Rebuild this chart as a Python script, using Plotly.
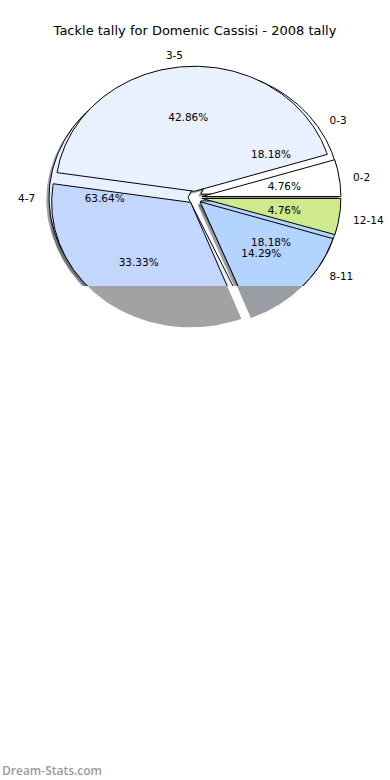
import numpy as np
import plotly.graph_objects as go

# ---------------- data ----------------
chart_title = "Tackle tally for Domenic Cassisi - 2008 tally"
# first (underlying) pie
a_labels = ["0-3", "4-7", "8-11"]
a_values = [2, 7, 2]
# second (top) pie
b_labels = ["0-2", "3-5", "4-7", "8-11", "12-14"]
b_values = [1, 9, 7, 3, 1]
watermark = "Dream-Stats.com"

# ---------------- styles ----------------
a_colors = ["#ffffff", "#e9f0fe", "#b3d4fe"]
b_colors = ["#ffffff", "#e9f0fe", "#c3d7fe", "#b3d4fe", "#cfea8c"]
b_under_grey = {"4-7": "#a1a2a4", "8-11": "#9a9ea4"}
EXPLODE = 0.05
SHADOW = (-0.02, -0.02)
FONT = "DejaVu Sans"

# pixel geometry of the page
W, H = 390, 780
CX, CY = 195.0, 197.5      # pie centre (px)
RX, RY = 139.0, 125.0      # pie radii (px) -> elliptical pie
CLIP_Y = 286.0             # lower clip of the pie axes (px)
TEXT_DY = 2.0 / RY         # small downward nudge of text baselines

xr = [(0 - CX) / RX, (W - CX) / RX]
yr_full = [(CY - H) / RY, CY / RY]
yr_clip = [(CY - CLIP_Y) / RY, CY / RY]


def wedges(values):
    v = np.asarray(values, dtype=float)
    frac = v / v.sum()
    edges = np.concatenate([[0.0], np.cumsum(frac)]) * 360.0
    return [(edges[i], edges[i + 1], frac[i] * 100) for i in range(len(v))]


def wedge_poly(t1, t2, e, dx=0.0, dy=0.0, n=160):
    mid = np.radians((t1 + t2) / 2)
    ox, oy = e * np.cos(mid) + dx, e * np.sin(mid) + dy
    th = np.radians(np.linspace(t1, t2, n))
    xs = np.concatenate([[ox], ox + np.cos(th), [ox]])
    ys = np.concatenate([[oy], oy + np.sin(th), [oy]])
    return xs, ys


def shade(hexcol):
    h = hexcol.lstrip("#")
    r, g, b = (int(h[i:i + 2], 16) for i in (0, 2, 4))
    return f"rgba({int(0.3*r)},{int(0.3*g)},{int(0.3*b)},0.5)"


fig = go.Figure()

pies = [(a_labels, a_values, a_colors), (b_labels, b_values, b_colors)]

# unclipped grey lower part of the top pie
for lab, (t1, t2, p) in zip(b_labels, wedges(b_values)):
    if lab in b_under_grey:
        xs, ys = wedge_poly(t1, t2, EXPLODE)
        fig.add_trace(go.Scatter(x=xs, y=ys, mode="lines", fill="toself",
                                 fillcolor=b_under_grey[lab], line=dict(width=0),
                                 hoverinfo="skip", showlegend=False,
                                 xaxis="x", yaxis="y"))

# shadows (all pies) on clipped axes
for labels, values, colors in pies:
    for col, (t1, t2, p) in zip(colors, wedges(values)):
        xs, ys = wedge_poly(t1, t2, EXPLODE, SHADOW[0], SHADOW[1])
        fig.add_trace(go.Scatter(x=xs, y=ys, mode="lines", fill="toself",
                                 fillcolor=shade(col), line=dict(width=0),
                                 hoverinfo="skip", showlegend=False,
                                 xaxis="x2", yaxis="y2"))

# wedges
for labels, values, colors in pies:
    for col, (t1, t2, p) in zip(colors, wedges(values)):
        xs, ys = wedge_poly(t1, t2, EXPLODE)
        fig.add_trace(go.Scatter(x=xs, y=ys, mode="lines", fill="toself",
                                 fillcolor=col, line=dict(color="black", width=1),
                                 hoverinfo="skip", showlegend=False,
                                 xaxis="x2", yaxis="y2"))

# texts
for labels, values, colors in pies:
    lx, ly, lt, lp = [], [], [], []
    px, py, pt = [], [], []
    for lab, (t1, t2, p) in zip(labels, wedges(values)):
        mid = np.radians((t1 + t2) / 2)
        c, s = np.cos(mid), np.sin(mid)
        lx.append((1.1 + EXPLODE) * c)
        ly.append((1.1 + EXPLODE) * s - TEXT_DY)
        lt.append(lab)
        lp.append("middle right" if c > 0 else "middle left")
        px.append((0.6 + EXPLODE) * c)
        py.append((0.6 + EXPLODE) * s - TEXT_DY)
        pt.append(f"{p:.2f}%")
    fig.add_trace(go.Scatter(x=lx, y=ly, text=lt, mode="text", textposition=lp,
                             textfont=dict(family=FONT, size=10.5, color="black"),
                             cliponaxis=True, hoverinfo="skip", showlegend=False,
                             xaxis="x2", yaxis="y2"))
    fig.add_trace(go.Scatter(x=px, y=py, text=pt, mode="text", textposition="middle center",
                             textfont=dict(family=FONT, size=10.5, color="black"),
                             cliponaxis=True, hoverinfo="skip", showlegend=False,
                             xaxis="x2", yaxis="y2"))

ax = dict(visible=False, showgrid=False, zeroline=False, fixedrange=True)
fig.update_layout(
    width=W, height=H,
    margin=dict(l=0, r=0, t=0, b=0),
    paper_bgcolor="white", plot_bgcolor="rgba(0,0,0,0)",
    xaxis=dict(domain=[0, 1], range=xr, anchor="y", **ax),
    yaxis=dict(domain=[0, 1], range=yr_full, anchor="x", **ax),
    xaxis2=dict(domain=[0, 1], range=xr, anchor="y2", **ax),
    yaxis2=dict(domain=[(H - CLIP_Y) / H, 1], range=yr_clip, anchor="x2", **ax),
    title=dict(text=chart_title, x=0.5, xanchor="center", y=1 - 30 / H, yanchor="middle",
               font=dict(family=FONT, size=13, color="black")),
    annotations=[dict(text=watermark, xref="paper", yref="paper", x=0, y=1 - 770 / H,
                      xanchor="left", yanchor="middle", showarrow=False,
                      font=dict(family="Open Sans", size=12, color="#9a9a9a", weight=600))],
    showlegend=False,
)

fig.write_html("out.html", config={"displayModeBar": False},
               post_script="document.body.style.margin='0';document.body.style.overflow='hidden';")
